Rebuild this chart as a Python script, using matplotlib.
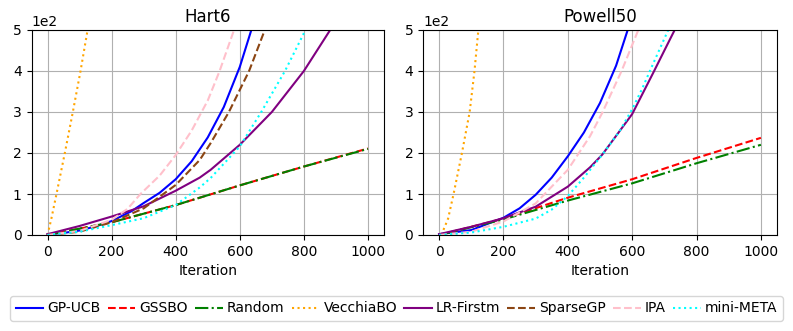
import matplotlib
matplotlib.use("Agg")
import matplotlib.pyplot as plt

# ---------------- data ----------------
methods = ["GP-UCB", "GSSBO", "Random", "VecchiaBO", "LR-Firstm", "SparseGP", "IPA", "mini-META"]
colors = ["blue", "red", "green", "orange", "purple", "saddlebrown", "pink", "cyan"]
styles = ["-", "--", "-.", ":", "-", "--", "--", ":"]

# Hart6
h_gpucb_x = [0, 50, 100, 150, 200, 262, 300, 350, 400, 450, 500, 550, 600, 636]
h_gpucb_y = [2, 5, 11, 21, 34, 58, 78, 103, 136, 180, 238, 312, 410, 500]
h_gssbo_x = [0, 200, 400, 600, 800, 1000]
h_gssbo_y = [0, 31, 73, 121, 167, 211]
h_random_x = [0, 200, 400, 600, 800, 1000]
h_random_y = [0, 31, 73, 121, 167, 210]
h_vecchia_x = [0, 12, 28, 54, 79, 103, 125]
h_vecchia_y = [0, 40, 100, 200, 300, 400, 500]
h_lr_x = [0, 100, 200, 300, 400, 475, 509, 600, 700, 800, 882]
h_lr_y = [2, 22, 45, 70, 108, 140, 159, 220, 300, 400, 500]
h_sparse_x = [0, 100, 200, 300, 400, 475, 509, 566, 629, 678]
h_sparse_y = [0, 8, 31, 65, 122, 183, 224, 300, 400, 500]
h_ipa_x = [0, 100, 200, 250, 290, 350, 400, 450, 500, 537, 582]
h_ipa_y = [0, 10, 37, 64, 100, 145, 195, 255, 328, 400, 500]
h_meta_x = [0, 100, 200, 300, 400, 475, 509, 600, 667, 741, 805]
h_meta_y = [0, 8, 24, 41, 73, 116, 139, 216, 300, 400, 500]

# Powell50
p_gpucb_x = [0, 100, 200, 250, 300, 350, 400, 450, 500, 550, 586]
p_gpucb_y = [2, 12, 42, 65, 98, 140, 192, 250, 322, 413, 500]
p_gssbo_x = [0, 200, 400, 600, 800, 1000]
p_gssbo_y = [0, 40, 91, 136, 188, 237]
p_random_x = [0, 200, 400, 600, 800, 1000]
p_random_y = [0, 38, 84, 126, 175, 220]
p_vecchia_x = [7, 28, 45, 71, 95, 110, 122]
p_vecchia_y = [0, 40, 100, 200, 300, 400, 500]
p_lr_x = [0, 100, 200, 300, 400, 469, 507, 600, 665, 700, 732]
p_lr_y = [2, 20, 41, 69, 118, 165, 196, 295, 395, 450, 500]
p_ipa_x = [0, 100, 200, 300, 400, 469, 507, 567, 619]
p_ipa_y = [0, 8, 33, 77, 159, 241, 298, 400, 500]
p_meta_x = [0, 100, 200, 300, 350, 400, 450, 507, 560, 600, 630, 655, 712]
p_meta_y = [0, 6, 20, 40, 62, 95, 140, 196, 252, 307, 355, 400, 500]

titles = ["Hart6", "Powell50"]

hart6 = [(h_gpucb_x, h_gpucb_y), (h_gssbo_x, h_gssbo_y), (h_random_x, h_random_y),
         (h_vecchia_x, h_vecchia_y), (h_lr_x, h_lr_y), (h_sparse_x, h_sparse_y),
         (h_ipa_x, h_ipa_y), (h_meta_x, h_meta_y)]
powell = [(p_gpucb_x, p_gpucb_y), (p_gssbo_x, p_gssbo_y), (p_random_x, p_random_y),
          (p_vecchia_x, p_vecchia_y), (p_lr_x, p_lr_y), None,
          (p_ipa_x, p_ipa_y), (p_meta_x, p_meta_y)]

W, H = 793, 331
fig = plt.figure(figsize=(W / 100, H / 100), dpi=100)
ax1 = fig.add_axes([31.5 / W, 1 - 235 / H, (384 - 31.5) / W, (235 - 30) / H])
ax2 = fig.add_axes([423 / W, 1 - 235 / H, (777 - 423) / W, (235 - 30) / H])

handles = []
for ax, title, series in [(ax1, titles[0], hart6), (ax2, titles[1], powell)]:
    for i, s in enumerate(series):
        if s is None:
            continue
        line, = ax.plot(s[0], s[1], color=colors[i], linestyle=styles[i], linewidth=1.5,
                        label=methods[i])
        if ax is ax1:
            handles.append(line)
    ax.set_title(title)
    ax.set_xlabel("Iteration")
    ax.set_ylim(0, 500)
    ax.set_xlim(-50, 1050)
    ax.set_xticks([0, 200, 400, 600, 800, 1000])
    ax.grid(True)
    ax.ticklabel_format(axis="y", style="sci", scilimits=(0, 0))

fig.legend(handles=handles, labels=methods, loc="lower center", ncol=8,
           bbox_to_anchor=(0.5, 10 / H), borderaxespad=0, handlelength=2,
           columnspacing=0.5, handletextpad=0.3, borderpad=0.4)

fig.savefig("out.png", dpi=100)
